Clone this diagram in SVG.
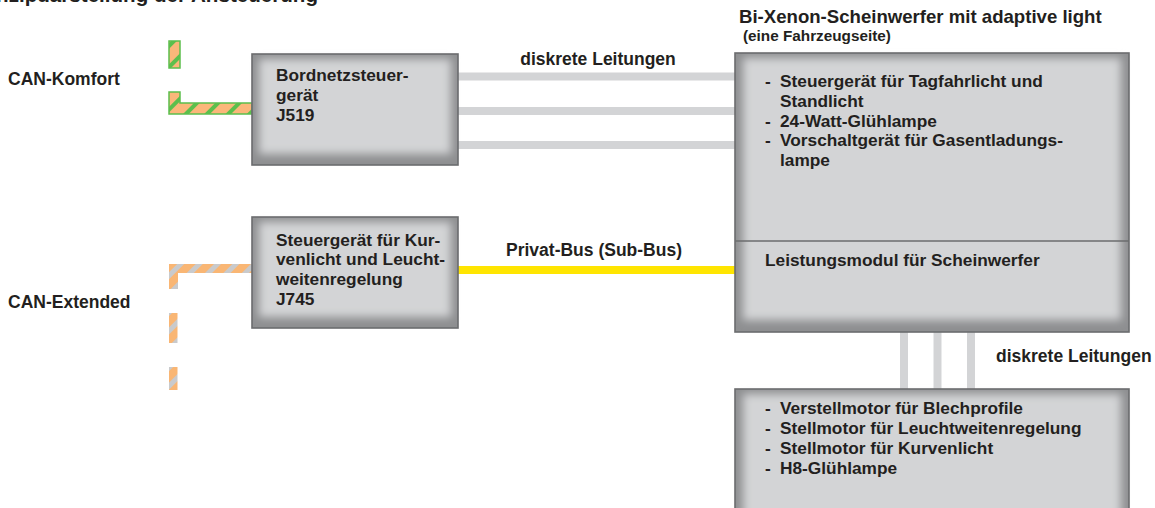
<svg xmlns="http://www.w3.org/2000/svg" width="1155" height="508" viewBox="0 0 1155 508">
<style>
text{font-family:"Liberation Sans",Arial,sans-serif;font-weight:700;font-size:17.3px;fill:#231f20}
.lbl{font-size:17.5px}
.box-o{fill:#8e8f91}
.box-i{fill:#d3d4d6;filter:url(#soft)}
.box-s{fill:none;stroke:#6b6c6e;stroke-width:1.6}
.wire{stroke:#d3d4d6;stroke-width:8;fill:none}
</style>
<defs>
<filter id="soft" x="-20%" y="-20%" width="140%" height="140%"><feGaussianBlur stdDeviation="4"/></filter>
<pattern id="komfort" patternUnits="userSpaceOnUse" width="15" height="15" patternTransform="rotate(45)">
<rect width="15" height="15" fill="#fbb77a"/><rect width="4" height="15" fill="#5cbf4c"/>
</pattern>
<pattern id="ext" patternUnits="userSpaceOnUse" width="13" height="13" patternTransform="rotate(45)">
<rect width="13" height="13" fill="#f9b674"/><rect width="5" height="13" fill="#c9cacc"/>
</pattern>
</defs>

<text x="318" y="2" text-anchor="end" style="font-size:20.6px">Prinzipdarstellung der Ansteuerung</text>

<g id="connectors">
<line class="wire" x1="458" y1="76.5" x2="735" y2="76.5"/>
<line class="wire" x1="458" y1="111" x2="735" y2="111"/>
<line class="wire" x1="458" y1="145" x2="735" y2="145"/>
<line x1="458" y1="270" x2="735" y2="270" stroke="#ffe500" stroke-width="8"/>
<line class="wire" x1="904" y1="332" x2="904" y2="389"/>
<line class="wire" x1="937.5" y1="332" x2="937.5" y2="389"/>
<line class="wire" x1="971" y1="332" x2="971" y2="389"/>
<g id="can-komfort" stroke="#5cbf4c" stroke-width="1.5">
<rect x="169" y="41" width="11" height="27" fill="url(#komfort)"/>
<path d="M169,92 H180 V103 H252 V114 H169 Z" fill="url(#komfort)"/>
</g>
<g id="can-extended">
<path d="M169,264 H252 V273 H178 V289 H169 Z" fill="url(#ext)"/>
<rect x="169" y="313" width="8.5" height="30" fill="url(#ext)"/>
<rect x="169" y="367" width="8.5" height="23" fill="url(#ext)"/>
</g>
<text class="lbl" x="598" y="65" text-anchor="middle">diskrete Leitungen</text>
<text class="lbl" x="594" y="256" text-anchor="middle">Privat-Bus (Sub-Bus)</text>
<text class="lbl" x="996" y="362">diskrete Leitungen</text>
</g>

<text class="lbl" x="8" y="85">CAN-Komfort</text>
<text class="lbl" x="8" y="308">CAN-Extended</text>

<g id="j519">
<rect class="box-o" x="252" y="54" width="206" height="111"/>
<rect class="box-i" x="259" y="59" width="192" height="95"/>
<rect class="box-s" x="252" y="54" width="206" height="111"/>
<text x="276" y="80.7">Bordnetzsteuer-</text>
<text x="276" y="100.7">gerät</text>
<text x="276" y="120.7">J519</text>
</g>

<g id="j745">
<rect class="box-o" x="252" y="217" width="206" height="111"/>
<rect class="box-i" x="259" y="222" width="192" height="95"/>
<rect class="box-s" x="252" y="217" width="206" height="111"/>
<text x="276" y="245.5">Steuergerät für Kur-</text>
<text x="276" y="265.2">venlicht und Leucht-</text>
<text x="276" y="284.9">weitenregelung</text>
<text x="276" y="304.6">J745</text>
</g>

<g id="scheinwerfer">
<text x="739" y="22.5" style="font-size:18.6px">Bi-Xenon-Scheinwerfer mit adaptive light</text>
<text x="743" y="41" style="font-size:15.3px">(eine Fahrzeugseite)</text>
<rect class="box-o" x="735" y="53" width="394" height="279"/>
<rect class="box-i" x="743" y="58" width="378" height="262"/>
<rect class="box-s" x="735" y="53" width="394" height="279"/>
<line x1="735" y1="241" x2="1129" y2="241" stroke="#6b6c6e" stroke-width="1.6"/>
<text x="765" y="86.7"><tspan>- </tspan><tspan x="780">Steuergerät für Tagfahrlicht und</tspan></text>
<text x="780" y="106.6">Standlicht</text>
<text x="765" y="126.5"><tspan>- </tspan><tspan x="780">24-Watt-Glühlampe</tspan></text>
<text x="765" y="146.4"><tspan>- </tspan><tspan x="780">Vorschaltgerät für Gasentladungs-</tspan></text>
<text x="780" y="166.3">lampe</text>
<text x="765" y="265.7">Leistungsmodul für Scheinwerfer</text>
</g>

<g id="aktoren">
<rect class="box-o" x="735" y="389" width="394" height="140"/>
<rect class="box-i" x="743" y="394" width="378" height="125"/>
<rect class="box-s" x="735" y="389" width="394" height="140"/>
<text x="765" y="414.3"><tspan>- </tspan><tspan x="780">Verstellmotor für Blechprofile</tspan></text>
<text x="765" y="434.3"><tspan>- </tspan><tspan x="780">Stellmotor für Leuchtweitenregelung</tspan></text>
<text x="765" y="454.3"><tspan>- </tspan><tspan x="780">Stellmotor für Kurvenlicht</tspan></text>
<text x="765" y="474.3"><tspan>- </tspan><tspan x="780">H8-Glühlampe</tspan></text>
</g>
</svg>
